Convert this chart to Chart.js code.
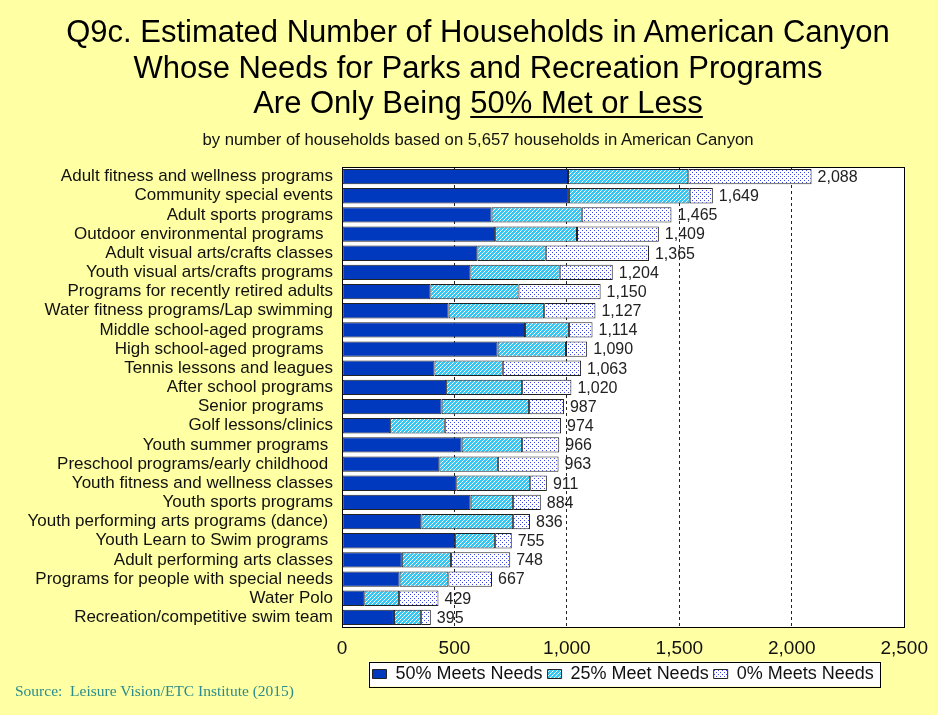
<!DOCTYPE html>
<html>
<head>
<meta charset="utf-8">
<title>Q9c Households - Needs 50% Met or Less</title>
<script src="https://cdn.jsdelivr.net/npm/chart.js@4.4.1/dist/chart.umd.min.js"></script>
<style>
  html, body { margin: 0; padding: 0; background: #FFFFA3; overflow: hidden; }
  #wrap { position: relative; width: 938px; height: 715px; font-family: Arial, "Liberation Sans", sans-serif; }
  #chart { position: absolute; left: 0; top: 0; }
  .title { position: absolute; left: 9px; top: 14px; width: 938px; text-align: center;
           font-size: 31px; line-height: 35.5px; color: #000; }
  .title u { text-decoration-thickness: 2px; text-underline-offset: 3px; }
  .sub { position: absolute; left: 9px; top: 130px; width: 938px; text-align: center;
         font-size: 16.7px; color: #111; }
  .source { position: absolute; left: 15px; top: 682px; font-family: "Times New Roman", "Liberation Serif", serif;
            font-size: 15.5px; color: #2A8C8C; white-space: pre; }
</style>
</head>
<body>
<div id="wrap">
  <canvas id="chart" width="938" height="715"></canvas>
  <div class="title">Q9c. Estimated Number of Households in American Canyon<br>
    Whose Needs for Parks and Recreation Programs<br>
    Are Only Being <u>50% Met or Less</u></div>
  <div class="sub">by number of households based on 5,657 households in American Canyon</div>
  <div class="source">Source:  Leisure Vision/ETC Institute (2015)</div>
</div>
<script>
var categories = [
  'Adult fitness and wellness programs',
  'Community special events',
  'Adult sports programs',
  'Outdoor environmental programs  ',
  'Adult visual arts/crafts classes',
  'Youth visual arts/crafts programs',
  'Programs for recently retired adults',
  'Water fitness programs/Lap swimming',
  'Middle school-aged programs  ',
  'High school-aged programs  ',
  'Tennis lessons and leagues',
  'After school programs',
  'Senior programs  ',
  'Golf lessons/clinics',
  'Youth summer programs ',
  'Preschool programs/early childhood ',
  'Youth fitness and wellness classes',
  'Youth sports programs',
  'Youth performing arts programs (dance) ',
  'Youth Learn to Swim programs ',
  'Adult performing arts classes',
  'Programs for people with special needs',
  'Water Polo',
  'Recreation/competitive swim team'
];

var meets50 = [1005, 1009, 665, 681, 602, 571, 393, 474, 814, 692, 411, 463,
               443, 214, 532, 433, 508, 572, 353, 503, 266, 256, 99, 231];
var meets25 = [535, 537, 401, 364, 304, 397, 392, 425, 195, 304, 304, 338,
               389, 243, 269, 260, 329, 189, 408, 178, 219, 217, 155, 121];
var meets0  = [548, 103, 399, 364, 459, 236, 365, 228, 105, 94, 348, 219,
               155, 517, 165, 270, 74, 123, 75, 74, 263, 194, 175, 43];

var xTicks = [0, 500, 1000, 1500, 2000, 2500];

(function () {
  'use strict';

  var FONT = 'Arial, "Liberation Sans", sans-serif';

  function makePattern(size, paint) {
    var c = document.createElement('canvas');
    c.width = size; c.height = size;
    var g = c.getContext('2d');
    paint(g, size);
    return g.createPattern(c, 'repeat');
  }

  var hatch = makePattern(4, function (g, s) {
    g.fillStyle = '#36C6F4';
    g.fillRect(0, 0, s, s);
    g.strokeStyle = '#FFFFFF';
    g.lineWidth = 1;
    g.beginPath();
    g.moveTo(0, s); g.lineTo(s, 0);
    g.moveTo(-1, 1); g.lineTo(1, -1);
    g.moveTo(s - 1, s + 1); g.lineTo(s + 1, s - 1);
    g.stroke();
  });

  var dots = makePattern(4, function (g, s) {
    g.fillStyle = '#FFFFFF';
    g.fillRect(0, 0, s, s);
    g.fillStyle = '#3a46e8';
    g.fillRect(0, 0, 1, 1);
    g.fillRect(2, 2, 1, 1);
  });

  var plotFrame = {
    id: 'plotFrame',
    beforeDraw: function (chart) {
      var a = chart.chartArea, ctx = chart.ctx;
      ctx.save();
      ctx.fillStyle = '#FFFFFF';
      ctx.fillRect(a.left, a.top, a.right - a.left, a.bottom - a.top);
      var boxes = chart.legend && chart.legend.legendHitBoxes;
      if (boxes && boxes.length) {
        var l = boxes[0].left - 4;
        var last = boxes[boxes.length - 1];
        var r = last.left + last.width + 6;
        var mid = boxes[0].top + boxes[0].height / 2;
        var t = mid - 12.5, b = mid + 12.5;
        ctx.fillRect(l, t, r - l, b - t);
        ctx.strokeStyle = '#000';
        ctx.lineWidth = 1;
        ctx.strokeRect(Math.round(l) + 0.5, Math.round(t) + 0.5, Math.round(r - l), Math.round(b - t));
      }
      ctx.restore();
    },
    afterDraw: function (chart) {
      var a = chart.chartArea, ctx = chart.ctx;
      ctx.save();
      ctx.strokeStyle = '#000';
      ctx.lineWidth = 1;
      ctx.strokeRect(Math.round(a.left) + 0.5, Math.round(a.top) + 0.5,
        Math.round(a.right - a.left), Math.round(a.bottom - a.top));
      ctx.restore();
    }
  };

  var totalLabels = {
    id: 'totalLabels',
    afterDatasetsDraw: function (chart) {
      var ctx = chart.ctx, xs = chart.scales.x, ys = chart.scales.y;
      ctx.save();
      ctx.font = '16px ' + FONT;
      ctx.fillStyle = '#222';
      ctx.textAlign = 'left';
      ctx.textBaseline = 'middle';
      categories.forEach(function (c, i) {
        var total = meets50[i] + meets25[i] + meets0[i];
        ctx.fillText(total.toLocaleString('en-US'), xs.getPixelForValue(total) + 6, ys.getPixelForValue(i) + 1);
      });
      ctx.restore();
    }
  };

  function seg(label, data, fill) {
    return {
      label: label,
      data: data,
      backgroundColor: fill,
      borderColor: '#222',
      borderWidth: 1,
      borderSkipped: false,
      barPercentage: 0.8,
      categoryPercentage: 1
    };
  }

  new Chart(document.getElementById('chart'), {
    type: 'bar',
    data: {
      labels: categories,
      datasets: [
        seg('50% Meets Needs', meets50, '#0039BE'),
        seg('25% Meet Needs', meets25, hatch),
        seg('0% Meets Needs', meets0, dots)
      ]
    },
    options: {
      indexAxis: 'y',
      responsive: false,
      animation: false,
      layout: { padding: { top: 167, left: 0, right: 33, bottom: 22 } },
      plugins: {
        legend: {
          position: 'bottom',
          fullSize: false,
          labels: {
            color: '#111',
            font: { family: FONT, size: 18 },
            boxWidth: 14,
            boxHeight: 9,
            padding: 5
          }
        },
        tooltip: { enabled: false }
      },
      scales: {
        x: {
          stacked: true,
          min: 0,
          max: 2500,
          afterBuildTicks: function (s) {
            s.ticks = xTicks.map(function (v) { return { value: v }; });
          },
          afterFit: function (s) { s.height = 33; },
          grid: {
            drawTicks: false,
            lineWidth: 1,
            color: function (c) {
              var v = c.tick && c.tick.value;
              return (v === 0 || v === 2500) ? 'rgba(0,0,0,0)' : '#222';
            }
          },
          border: { display: true, color: '#000', dash: [3, 3] },
          ticks: {
            color: '#111',
            padding: 10,
            font: { family: FONT, size: 19 },
            callback: function (v) { return Number(v).toLocaleString('en-US'); }
          }
        },
        y: {
          stacked: true,
          afterFit: function (s) { s.width = 342; },
          grid: { display: false },
          border: { display: true, color: '#000' },
          ticks: {
            color: '#111',
            padding: 1,
            autoSkip: false,
            font: { family: FONT, size: 17 }
          }
        }
      }
    },
    plugins: [plotFrame, totalLabels]
  });
})();
</script>
</body>
</html>
